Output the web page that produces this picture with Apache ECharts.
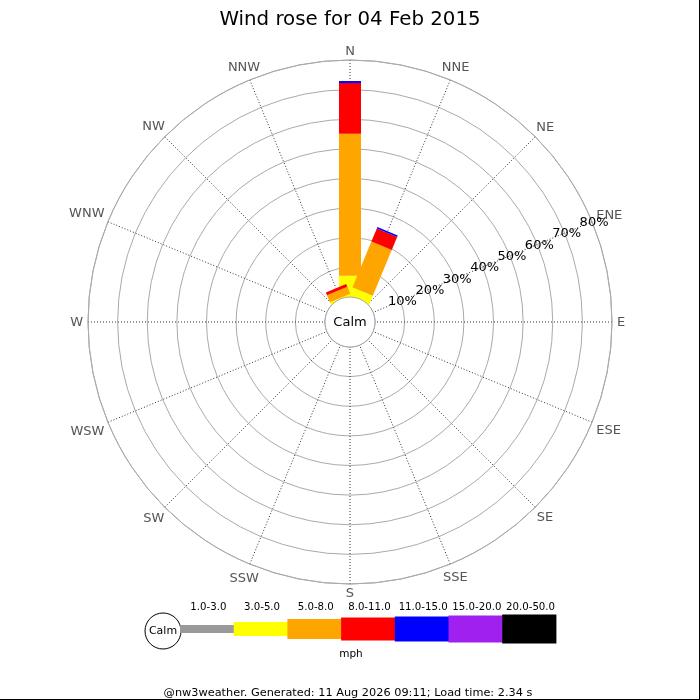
<!DOCTYPE html>
<html>
<head>
<meta charset="utf-8">
<script src="https://cdn.jsdelivr.net/npm/echarts@6/dist/echarts.min.js"></script>
<style>
html, body { margin: 0; padding: 0; background: #fff; }
#chart { width: 700px; height: 700px; }
</style>
</head>
<body>
<div id="chart"></div>
<script>
const directions = ['N', 'NNE', 'NE', 'ENE', 'E', 'ESE', 'SE', 'SSE', 'S', 'SSW', 'SW', 'WSW', 'W', 'WNW', 'NW', 'NNW'];
const speedBins = ['1.0-3.0', '3.0-5.0', '5.0-8.0', '8.0-11.0', '11.0-15.0', '15.0-20.0', '20.0-50.0'];
const binColors = ['#999999', '#ffff00', '#ffa500', '#ff0000', '#0000ff', '#a020f0', '#000000'];

// % of time from each direction, one array per speed bin (same order as directions)
const spd1to3   = [0,    0,    0, 0, 0, 0, 0, 0, 0, 0, 0, 0, 0, 0, 0, 0];
const spd3to5   = [7.2,  2.7,  0, 0, 0, 0, 0, 0, 0, 0, 0, 0, 0, 0, 0, 0.3];
const spd5to8   = [47.9, 16.7, 0, 0, 0, 0, 0, 0, 0, 0, 0, 0, 0, 0, 0, 2.6];
const spd8to11  = [17.1, 4.8,  0, 0, 0, 0, 0, 0, 0, 0, 0, 0, 0, 0, 0, 1.0];
const spd11to15 = [0.7,  0.5,  0, 0, 0, 0, 0, 0, 0, 0, 0, 0, 0, 0, 0, 0];
const spd15to20 = [0,    0,    0, 0, 0, 0, 0, 0, 0, 0, 0, 0, 0, 0, 0, 0];
const spd20to50 = [0,    0,    0, 0, 0, 0, 0, 0, 0, 0, 0, 0, 0, 0, 0, 0];

const ringTicks = [10, 20, 30, 40, 50, 60, 70, 80];
const title = 'Wind rose for 04 Feb 2015';
const footer = '@nw3weather. Generated: 11 Aug 2026 09:11; Load time: 2.34 s';

const FONT = 'DejaVu Sans';
const binValues = [spd1to3, spd3to5, spd5to8, spd8to11, spd11to15, spd15to20, spd20to50];
const step = 360 / directions.length;

// stack the bins by hand: each item is [angle, start, end]
const running = directions.map(() => 0);
const barSeries = binValues.map((vals, b) => {
  const data = vals.map((v, i) => {
    const item = [i * step, running[i], running[i] + v];
    running[i] += v;
    return item;
  });
  return {
    type: 'custom',
    name: speedBins[b],
    coordinateSystem: 'polar',
    itemStyle: { color: binColors[b] },
    dimensions: ['angle', 'from', 'to'],
    encode: { angle: 0, radius: 2 },
    data: data,
    renderItem: function (params, api) {
      const a = api.value(0), v0 = api.value(1), v1 = api.value(2);
      if (!(v1 > v0)) return;
      const cs = params.coordSys;
      const p1 = api.coord([v1, a]);
      let ux = p1[0] - cs.cx, uy = p1[1] - cs.cy;
      const len = Math.hypot(ux, uy);
      ux /= len; uy /= len;
      // first segment runs in to the centre, the calm disc covers it
      const p0 = v0 === 0 ? [cs.cx, cs.cy] : api.coord([v0, a]);
      const hw = 11, nx = -uy * hw, ny = ux * hw;
      return {
        type: 'polygon',
        shape: { points: [
          [p0[0] + nx, p0[1] + ny], [p1[0] + nx, p1[1] + ny],
          [p1[0] - nx, p1[1] - ny], [p0[0] - nx, p0[1] - ny]
        ] },
        style: { fill: binColors[b] }
      };
    }
  };
});

const measureCtx = document.createElement('canvas').getContext('2d');
function textWidth(t, size) {
  measureCtx.font = size + 'px "' + FONT + '"';
  return measureCtx.measureText(t).width;
}

// compass labels just outside the outer ring
const dirLabelSeries = {
  type: 'custom',
  coordinateSystem: 'polar',
  dimensions: ['angle'],
  encode: { angle: 0 },
  data: directions.map((d, i) => [i * step]),
  z: 5,
  renderItem: function (params, api) {
    const a = api.value(0);
    const cs = params.coordSys;
    const p = api.coord([80, a]);
    const ux = (p[0] - cs.cx) / cs.r, uy = (p[1] - cs.cy) / cs.r;
    const name = directions[params.dataIndex];
    const w = textWidth(name, 13), h = 8;
    const d = cs.r + 5 + (w / 2) * Math.abs(ux) + (h / 2) * Math.abs(uy);
    return {
      type: 'text',
      x: cs.cx + ux * d,
      y: cs.cy + uy * d + 1,
      style: { text: name, fill: '#555', fontSize: 13, fontFamily: FONT, align: 'center', verticalAlign: 'middle' }
    };
  }
};

// percentage labels along the ENE spoke
const ringLabelSeries = {
  type: 'custom',
  coordinateSystem: 'polar',
  dimensions: ['radius', 'angle'],
  encode: { radius: 0, angle: 1 },
  data: ringTicks.map(t => [t, 67.5]),
  z: 6,
  renderItem: function (params, api) {
    const p = api.coord([api.value(0), api.value(1)]);
    return {
      type: 'text',
      x: p[0] + 2,
      y: p[1] + 1,
      style: { text: api.value(0) + '%', fill: '#000', fontSize: 13, fontFamily: FONT, align: 'center', verticalAlign: 'middle' }
    };
  }
};

// legend strip along the bottom
const legendEls = [];
const legX = 180, segW = 53.7, legY = 629;
const segH = [8, 14, 20, 23, 25, 27, 29];
legendEls.push({
  type: 'circle', shape: { cx: 163, cy: 631, r: 18 },
  style: { fill: '#fff', stroke: '#000', lineWidth: 1 }
});
legendEls.push({
  type: 'text', x: 163, y: 631,
  style: { text: 'Calm', fill: '#000', fontSize: 11, fontFamily: FONT, align: 'center', verticalAlign: 'middle' }
});
speedBins.forEach((lab, i) => {
  legendEls.push({
    type: 'rect',
    shape: { x: legX + i * segW, y: legY - segH[i] / 2, width: segW + 0.5, height: segH[i] },
    style: { fill: binColors[i] }
  });
  legendEls.push({
    type: 'text', x: legX + i * segW + segW / 2 + 1.5, y: 607,
    style: { text: lab, fill: '#000', fontSize: 10.2, fontFamily: FONT, align: 'center', verticalAlign: 'middle' }
  });
});
legendEls.push({
  type: 'text', x: 351, y: 654,
  style: { text: 'mph', fill: '#000', fontSize: 10.5, fontFamily: FONT, align: 'center', verticalAlign: 'middle' }
});

const chart = echarts.init(document.getElementById('chart'), null, { renderer: 'canvas' });
chart.setOption({
  backgroundColor: '#fff',
  animation: false,
  title: {
    text: title, left: 'center', top: 5,
    textStyle: { fontSize: 19.8, fontWeight: 'normal', color: '#000', fontFamily: FONT }
  },
  polar: { center: [350, 322], radius: [25, 262] },
  angleAxis: {
    type: 'value', min: 0, max: 360, interval: 22.5,
    startAngle: 90, clockwise: true,
    axisLine: { show: true, lineStyle: { color: '#aaa', width: 1 } },
    axisTick: { show: false },
    axisLabel: { show: false },
    splitLine: { show: true, lineStyle: { color: '#333', width: 1, type: [1, 2] } }
  },
  radiusAxis: {
    type: 'value', min: 0, max: 80, interval: 10,
    axisLine: { show: false },
    axisTick: { show: false },
    axisLabel: { show: false },
    splitLine: { show: true, lineStyle: { color: '#aaa', width: 1 } }
  },
  series: barSeries.concat([dirLabelSeries, ringLabelSeries]),
  graphic: [
    { type: 'circle', z: 50, shape: { cx: 350, cy: 322, r: 25 }, style: { fill: '#fff', stroke: '#aaa', lineWidth: 1 } },
    { type: 'text', z: 51, x: 350, y: 323, style: { text: 'Calm', fill: '#000', fontSize: 13, fontFamily: FONT, align: 'center', verticalAlign: 'middle' } },
    { type: 'group', z: 50, children: legendEls },
    { type: 'text', z: 50, x: 348, y: 693, style: { text: footer, fill: '#000', fontSize: 11.3, fontFamily: FONT, align: 'center', verticalAlign: 'middle' } },
    { type: 'line', z: 50, shape: { x1: 699.5, y1: 0, x2: 699.5, y2: 700 }, style: { stroke: '#000', lineWidth: 1 } },
    { type: 'line', z: 50, shape: { x1: 0, y1: 699.5, x2: 700, y2: 699.5 }, style: { stroke: '#000', lineWidth: 1 } }
  ]
});
</script>
</body>
</html>
